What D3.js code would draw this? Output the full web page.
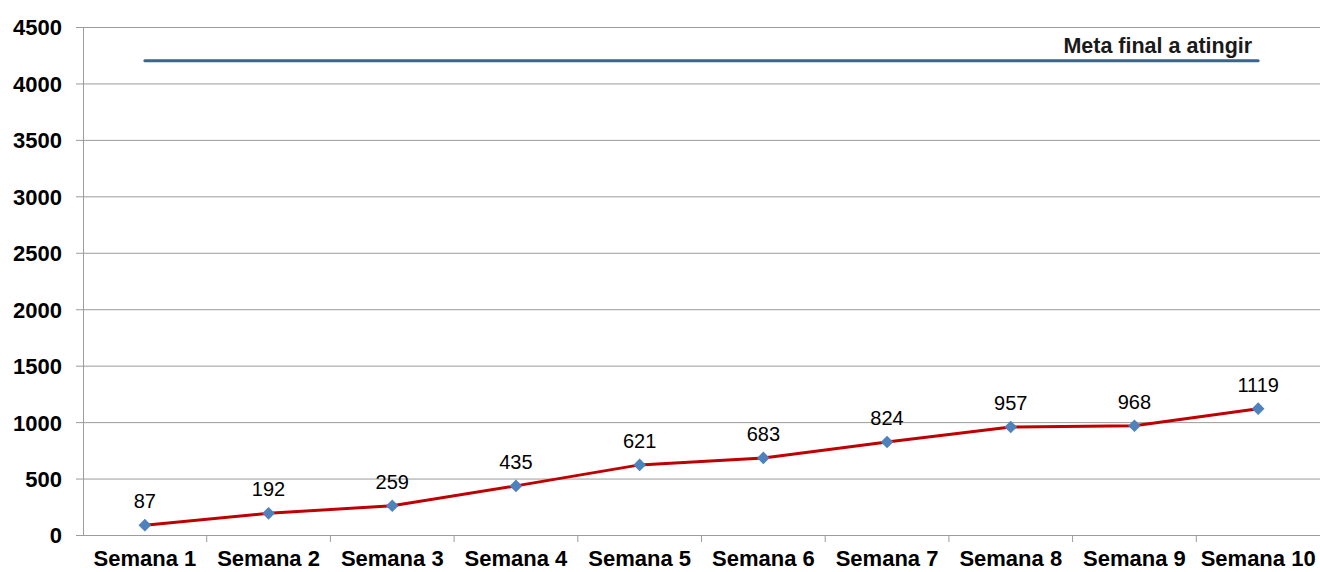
<!DOCTYPE html>
<html>
<head>
<meta charset="utf-8">
<script src="https://cdn.jsdelivr.net/npm/d3@7"></script>
<style>
	body { margin: 0; background: #fff; }
	svg { display: block; font-family: "Liberation Sans", Arial, sans-serif; }
</style>
</head>
<body>
<div id="chart"></div>
<script>
// chart data
const semanas = ['Semana 1', 'Semana 2', 'Semana 3', 'Semana 4', 'Semana 5',
	'Semana 6', 'Semana 7', 'Semana 8', 'Semana 9', 'Semana 10'];
const valores = [87, 192, 259, 435, 621, 683, 824, 957, 968, 1119];
const meta = [4200, 4200, 4200, 4200, 4200, 4200, 4200, 4200, 4200, 4200];
const metaLabel = 'Meta final a atingir';
const yTicks = [0, 500, 1000, 1500, 2000, 2500, 3000, 3500, 4000, 4500];

const width = 1320;
const height = 572;
const margin = { top: 27, right: 0, bottom: 37, left: 83 };

const svg = d3.select('#chart')
	.append('svg')
	.attr('width', width)
	.attr('height', height);

const x = d3.scaleBand()
	.domain(semanas)
	.range([margin.left, width - margin.right]);

const y = d3.scaleLinear()
	.domain([0, 4500])
	.range([height - margin.bottom, margin.top]);

const cx = d => x(d) + x.bandwidth() / 2;

// horizontal gridlines + y labels
const yAxis = d3.axisLeft(y)
	.tickValues(yTicks)
	.tickFormat(d3.format('d'))
	.tickSize(-(width - margin.left - margin.right))
	.tickSizeOuter(0);

const gy = svg.append('g')
	.attr('transform', `translate(${margin.left},0)`)
	.call(yAxis);

gy.select('.domain').attr('stroke', '#9c9c9c');
gy.selectAll('.tick line')
	.attr('stroke', '#9c9c9c')
	.attr('x1', -7);
gy.selectAll('.tick text')
	.attr('x', -21)
	.attr('dy', '0.36em')
	.attr('font-size', 22)
	.attr('font-weight', 'bold')
	.attr('fill', '#000');

// x axis
const xAxis = d3.axisBottom(x)
	.tickSize(0);

const gx = svg.append('g')
	.attr('transform', `translate(0,${y(0)})`)
	.call(xAxis);

gx.select('.domain').attr('stroke', '#9c9c9c');
gx.selectAll('.tick text')
	.attr('y', 31)
	.attr('dy', 0)
	.attr('font-size', 22)
	.attr('font-weight', 'bold')
	.attr('fill', '#000');

// tick marks between categories
gx.selectAll('.sep')
	.data(semanas.slice(1))
	.enter()
	.append('line')
	.attr('x1', d => x(d))
	.attr('x2', d => x(d))
	.attr('y1', 0)
	.attr('y2', 7)
	.attr('stroke', '#9c9c9c');

// meta line
const metaLine = d3.line()
	.x((d, i) => cx(semanas[i]))
	.y(d => y(d));

svg.append('path')
	.datum(meta)
	.attr('d', metaLine)
	.attr('fill', 'none')
	.attr('stroke', '#3b6396')
	.attr('stroke-width', 3)
	.attr('stroke-linecap', 'round');

svg.append('text')
	.attr('x', cx(semanas[semanas.length - 1]) - 6)
	.attr('y', y(meta[meta.length - 1]) - 8)
	.attr('text-anchor', 'end')
	.attr('font-size', 21.5)
	.attr('font-weight', 'bold')
	.attr('fill', '#1a1a1a')
	.text(metaLabel);

// progress line
const line = d3.line()
	.x((d, i) => cx(semanas[i]))
	.y(d => y(d));

svg.append('path')
	.datum(valores)
	.attr('d', line)
	.attr('fill', 'none')
	.attr('stroke', '#c00000')
	.attr('stroke-width', 3)
	.attr('stroke-linejoin', 'round');

// diamond markers
const diamond = d3.symbol().type(d3.symbolSquare).size(80);

svg.selectAll('.marker')
	.data(valores)
	.enter()
	.append('path')
	.attr('d', diamond)
	.attr('transform', (d, i) => `translate(${cx(semanas[i])},${y(d)}) rotate(45)`)
	.attr('fill', '#4f81bd');

// value labels
svg.selectAll('.val')
	.data(valores)
	.enter()
	.append('text')
	.attr('x', (d, i) => cx(semanas[i]))
	.attr('y', d => y(d) - 17)
	.attr('text-anchor', 'middle')
	.attr('font-size', 20)
	.attr('fill', '#000')
	.text(d => d);
</script>
</body>
</html>
